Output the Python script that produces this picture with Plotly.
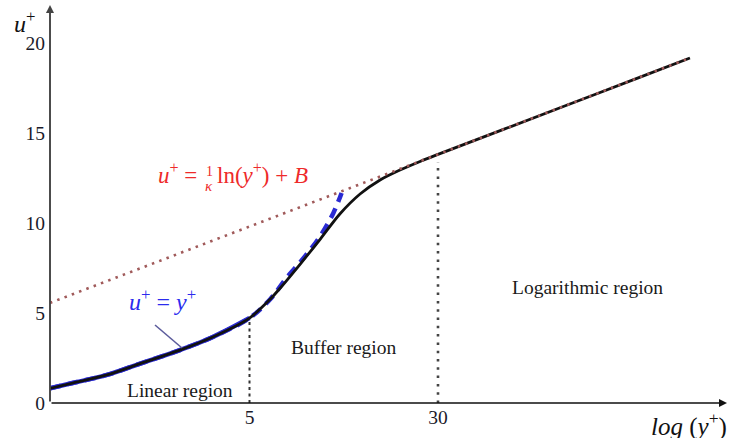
import plotly.graph_objects as go

# Velocity profile in wall units: u+ against y+
profile_yplus = [0.75, 0.93, 1.29, 1.77, 2.58, 3.53, 5.0, 6.1, 6.7, 8.1, 9.8, 11.8,
                 14.3, 17.3, 20.9, 25.3, 30.0, 100.0, 200.0, 329.0]
profile_uplus = [0.81, 1.11, 1.56, 2.19, 2.94, 3.67, 4.72, 5.78, 6.39, 7.72, 9.11, 10.5,
                 11.61, 12.39, 12.94, 13.42, 13.81, 16.5, 18.05, 19.17]

# Viscous sublayer law u+ = y+
linear_yplus = [0.75, 0.93, 1.29, 1.77, 2.58, 3.53, 5.0, 6.1, 7.1, 8.5, 9.8, 11.1, 12.0]
linear_uplus = [0.81, 1.11, 1.56, 2.19, 2.94, 3.67, 4.72, 5.78, 6.94, 8.17, 9.28, 10.56, 11.67]

# Log law u+ = (1/kappa) ln(y+) + B
loglaw_yplus = [0.75, 329.0]
loglaw_uplus = [5.56, 19.17]

# Region boundaries and where their markers stop
boundary_yplus = [5, 30]
boundary_top = [4.56, 13.39]

x_ticks = [5, 30]
y_ticks = [0, 5, 10, 15, 20]
region_labels = ["Linear region", "Buffer region", "Logarithmic region"]

W, H = 729, 438
ML, MR, MT, MB = 50, 9, 5, 35
PW, PH = W - ML - MR, H - MT - MB
SERIF = "Liberation Serif"


def px(xp):
    return (xp - ML) / PW


def py(yp):
    return (H - MB - yp) / PH


def label(xp, yp, text, size, color, xanchor="center", yanchor="middle"):
    return dict(xref="paper", yref="paper", x=px(xp), y=py(yp), text=text, showarrow=False,
                xanchor=xanchor, yanchor=yanchor, font=dict(family=SERIF, size=size, color=color))


fig = go.Figure()

# u+ = y+ : solid under the profile in the sublayer, dashed beyond
fig.add_trace(go.Scatter(x=linear_yplus[:7], y=linear_uplus[:7], mode="lines",
                         line=dict(color="#2a2ad2", width=4.5, shape="spline"), hoverinfo="skip"))
fig.add_trace(go.Scatter(x=linear_yplus, y=linear_uplus, mode="lines",
                         line=dict(color="#2a2ad2", width=4.5, dash="11px,7px", shape="spline"),
                         hoverinfo="skip"))

# velocity profile
fig.add_trace(go.Scatter(x=profile_yplus, y=profile_uplus, mode="lines",
                         line=dict(color="#111111", width=2.8, shape="spline", smoothing=0.8),
                         hoverinfo="skip"))

# log law
fig.add_trace(go.Scatter(x=loglaw_yplus, y=loglaw_uplus, mode="lines",
                         line=dict(color="#a05a5a", width=2.6, dash="2.5px,5.3px"),
                         hoverinfo="skip"))

# region boundaries
fig.add_trace(go.Scatter(x=[boundary_yplus[0]] * 2, y=[0, boundary_top[0]], mode="lines",
                         line=dict(color="#333333", width=2, dash="3px,3.5px"), hoverinfo="skip"))
fig.add_trace(go.Scatter(x=[boundary_yplus[1]] * 2, y=[0, boundary_top[1]], mode="lines",
                         line=dict(color="#444444", width=2.6, dash="2.5px,5.8px"), hoverinfo="skip"))

ann = []
# axes with arrowheads
ann.append(dict(xref="paper", yref="paper", x=0, y=py(5), ax=0, ay=398, axref="pixel", ayref="pixel",
                text="", showarrow=True, arrowhead=2, arrowsize=0.85, arrowwidth=1.9,
                arrowcolor="#444444", standoff=0, startstandoff=0))
ann.append(dict(xref="paper", yref="paper", x=px(727), y=0, ax=-677, ay=0, axref="pixel", ayref="pixel",
                text="", showarrow=True, arrowhead=2, arrowsize=1.0, arrowwidth=1.6,
                arrowcolor="#111111", standoff=0, startstandoff=0))

# axis titles
ann.append(label(24, 22, "<i>u</i><sup>+</sup>", 24, "#111111"))
ann.append(label(729, 425, "<i>log</i> (<i>y</i><sup>+</sup>)", 25, "#111111", xanchor="right"))

# region labels
for name, (cx, cy) in zip(region_labels, [(180, 390.5), (343, 347), (587.5, 287)]):
    ann.append(label(cx, cy, name, 19.5, "#1a1a1a"))

# sublayer law label
ann.append(label(162, 300, "<i>u</i><sup>+</sup> = <i>y</i><sup>+</sup>", 24, "#2b2bee"))

# log-law label
red = "#ee2a2a"
ann.append(label(156, 173, "<i>u</i><sup>+</sup> =", 23, red, xanchor="left"))
ann.append(label(209, 171, "1", 14, red))
ann.append(label(209, 186, "<i>κ</i>", 15, red))
ann.append(label(215, 173, "ln(<i>y</i><sup>+</sup>) + <i>B</i>", 23, red, xanchor="left"))

shapes = [dict(type="line", xref="paper", yref="paper", x0=px(155), y0=py(325), x1=px(182), y1=py(348),
               line=dict(color="#5c5c9c", width=1.6))]

fig.update_layout(
    width=W, height=H,
    margin=dict(l=ML, r=MR, t=MT, b=MB),
    paper_bgcolor="white", plot_bgcolor="white",
    showlegend=False,
    annotations=ann, shapes=shapes,
    xaxis=dict(type="log", range=[-0.12459, 2.64126], tickvals=x_ticks, ticktext=[str(v) for v in x_ticks],
               showgrid=False, zeroline=False, showline=False, ticks="",
               tickfont=dict(family=SERIF, size=19.5, color="#1a1a2a")),
    yaxis=dict(range=[0, PH / 18.0], tickvals=y_ticks, showgrid=False, zeroline=False, showline=False,
               ticks="", ticklabelstandoff=4,
               tickfont=dict(family=SERIF, size=19.5, color="#1a1a2a")),
)

fig.write_html("out.html")
